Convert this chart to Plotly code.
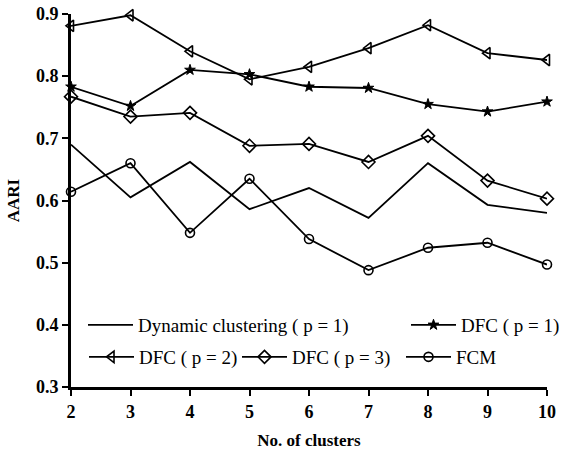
import plotly.graph_objects as go

clusters = [2, 3, 4, 5, 6, 7, 8, 9, 10]
dynamic_p1 = [0.690, 0.605, 0.662, 0.586, 0.620, 0.572, 0.660, 0.593, 0.580]
dfc_p1 = [0.783, 0.752, 0.810, 0.803, 0.783, 0.781, 0.755, 0.743, 0.759]
dfc_p2 = [0.881, 0.898, 0.840, 0.795, 0.815, 0.845, 0.882, 0.837, 0.826]
dfc_p3 = [0.767, 0.735, 0.741, 0.688, 0.691, 0.662, 0.704, 0.632, 0.603]
fcm = [0.614, 0.660, 0.548, 0.635, 0.538, 0.488, 0.524, 0.532, 0.497]

x_ticks = [2, 3, 4, 5, 6, 7, 8, 9, 10]
y_ticks = [0.3, 0.4, 0.5, 0.6, 0.7, 0.8, 0.9]

FONT = "Liberation Serif"
LW = 1.8

fig = go.Figure()
fig.add_trace(go.Scatter(x=clusters, y=dynamic_p1, mode="lines", name="Dynamic clustering ( p = 1)",
                         line=dict(color="black", width=LW), legend="legend", cliponaxis=False))
fig.add_trace(go.Scatter(x=clusters, y=dfc_p1, mode="lines+markers", name="DFC ( p = 1)",
                         line=dict(color="black", width=LW),
                         marker=dict(symbol="star", size=8, color="black", line=dict(color="black", width=1)),
                         legend="legend2", cliponaxis=False))
fig.add_trace(go.Scatter(x=clusters, y=dfc_p2, mode="lines+markers", name="DFC ( p = 2)",
                         line=dict(color="black", width=LW),
                         marker=dict(symbol="triangle-left-open", size=10, color="black", line=dict(width=1.6)),
                         legend="legend3", cliponaxis=False))
fig.add_trace(go.Scatter(x=clusters, y=dfc_p3, mode="lines+markers", name="DFC ( p = 3)",
                         line=dict(color="black", width=LW),
                         marker=dict(symbol="diamond-open", size=10, color="black", line=dict(width=1.6)),
                         legend="legend4", cliponaxis=False))
fig.add_trace(go.Scatter(x=clusters, y=fcm, mode="lines+markers", name="FCM",
                         line=dict(color="black", width=LW),
                         marker=dict(symbol="circle-open", size=9, color="black", line=dict(width=1.6)),
                         legend="legend5", cliponaxis=False))

PLOT_L, PLOT_W = 71, 476
PLOT_B, PLOT_H = 387, 373


def lg(px_left, py_center):
    return dict(orientation="h", bgcolor="rgba(0,0,0,0)", borderwidth=0,
                font=dict(family=FONT, size=19, color="black"),
                itemwidth=45, xanchor="left", yanchor="middle",
                x=(px_left - 5 - PLOT_L) / PLOT_W, y=(PLOT_B - py_center) / PLOT_H)


fig.update_layout(
    width=570, height=453,
    margin=dict(l=71, r=23, t=14, b=66, autoexpand=False),
    plot_bgcolor="white", paper_bgcolor="white",
    font=dict(family=FONT, color="black"),
    showlegend=True,
    legend=lg(88, 325),
    legend2=lg(411, 325),
    legend3=lg(89, 357),
    legend4=lg(242, 357),
    legend5=lg(406, 357),
    xaxis=dict(range=[2, 10], tickvals=x_ticks, ticktext=[str(v) for v in x_ticks],
               showgrid=False, zeroline=False, showline=True, linecolor="black", linewidth=3,
               ticks="outside", ticklen=6, tickwidth=2, tickcolor="black", automargin=False,
               tickfont=dict(family=FONT, size=18, color="black", weight="bold"),
               title=dict(text="No. of clusters", font=dict(family=FONT, size=17, color="black", weight="bold"),
                          standoff=14)),
    yaxis=dict(range=[0.3, 0.9], tickvals=y_ticks, ticktext=[f"{v:.1f}" for v in y_ticks],
               showgrid=False, zeroline=False, showline=True, linecolor="black", linewidth=3,
               ticks="outside", ticklen=6, tickwidth=2, tickcolor="black", automargin=False,
               tickfont=dict(family=FONT, size=18, color="black", weight="bold"),
               title=dict(text="AARI", font=dict(family=FONT, size=17, color="black", weight="bold"),
                          standoff=12)),
)

fig.write_html("out.html")
